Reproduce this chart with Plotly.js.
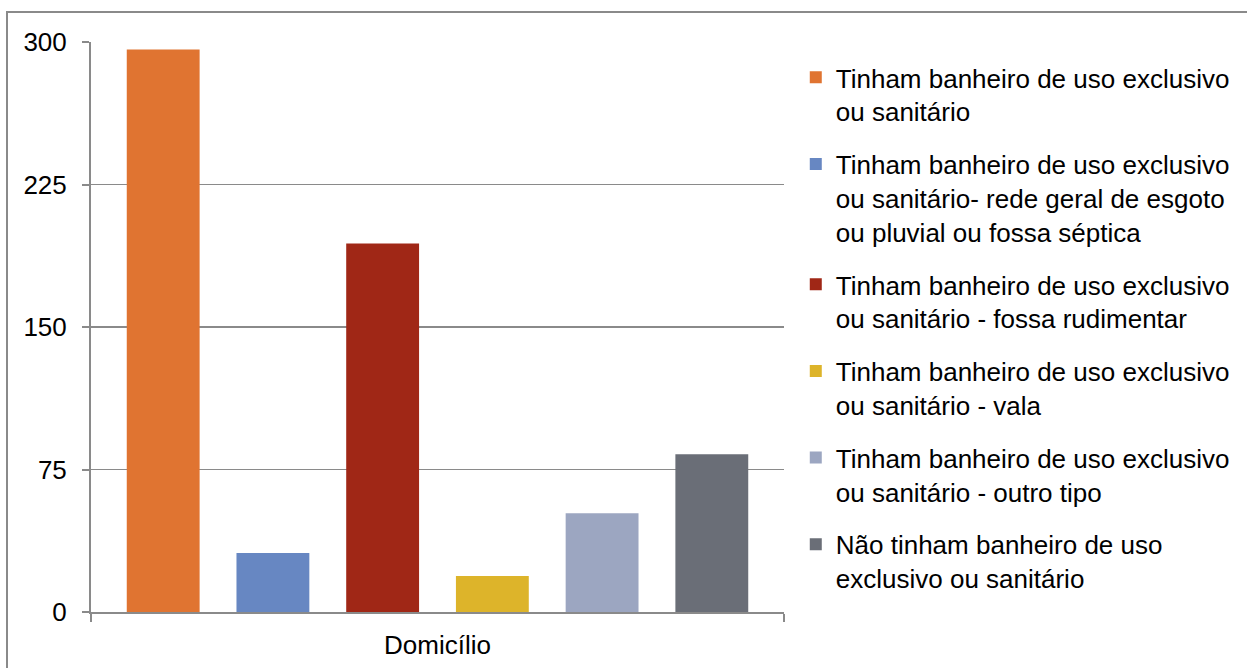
<!DOCTYPE html>
<html>
<head>
<meta charset="utf-8">
<script src="https://cdn.plot.ly/plotly-3.0.1.min.js"></script>
<style>
  html, body { margin: 0; padding: 0; background: #fff; }
  #wrap { position: relative; width: 1247px; height: 668px; overflow: hidden; }
  #chart { position: absolute; left: 0; top: 0; width: 1247px; height: 668px; }
  #frame { position: absolute; left: 6px; top: 11px; width: 1300px; height: 700px;
           border-top: 2px solid #8a8a8a; border-left: 2px solid #8a8a8a; pointer-events: none; }
</style>
</head>
<body>
<div id="wrap"><div id="chart"></div><div id="frame"></div></div>
<script>
const categories = ["Domicílio"];
const seriesNames = [
  "Tinham banheiro de uso exclusivo<br>ou sanitário",
  "Tinham banheiro de uso exclusivo<br>ou sanitário- rede geral de esgoto<br>ou pluvial ou fossa séptica",
  "Tinham banheiro de uso exclusivo<br>ou sanitário - fossa rudimentar",
  "Tinham banheiro de uso exclusivo<br>ou sanitário - vala",
  "Tinham banheiro de uso exclusivo<br>ou sanitário - outro tipo",
  "Não tinham banheiro de uso<br>exclusivo ou sanitário"
];
const seriesValues = [296, 31, 194, 19, 52, 83];
const seriesColors = ["#E07431", "#6787C2", "#A02716", "#DDB42A", "#9CA6C1", "#6A6E77"];
const yTicks = [0, 75, 150, 225, 300];

const traces = seriesNames.map((name, i) => ({
  type: "bar",
  x: categories,
  y: [seriesValues[i]],
  name: name,
  legendgroup: "g" + i,
  marker: { color: seriesColors[i], line: { width: 0 } },
  hoverinfo: "name+y"
}));

const FONT = "Liberation Sans, Arial, sans-serif";
const layout = {
  width: 1247, height: 668,
  margin: { l: 91, r: 463, t: 42, b: 56, pad: 0 },
  paper_bgcolor: "#ffffff",
  plot_bgcolor: "#ffffff",
  font: { family: FONT, size: 26, color: "#000" },
  barmode: "group",
  bargap: 0.05,
  bargroupgap: 0.336,
  showlegend: true,
  legend: {
    x: 1.017, xanchor: "left", y: 0.979, yanchor: "top",
    font: { family: FONT, size: 26, color: "#000" },
    tracegroupgap: 16,
    itemwidth: 30,
    traceorder: "grouped",
    valign: "top",
    bgcolor: "rgba(0,0,0,0)"
  },
  xaxis: {
    type: "category",
    showline: true, linecolor: "#8a8a8a", linewidth: 2,
    ticks: "outside", tickson: "boundaries", ticklen: 8, tickcolor: "#8a8a8a", tickwidth: 2,
    showgrid: false, zeroline: false,
    ticklabelstandoff: 9,
    tickfont: { family: FONT, size: 26 }
  },
  yaxis: {
    range: [0, 300],
    tickvals: yTicks,
    ticktext: yTicks.map(String),
    showline: true, linecolor: "#8a8a8a", linewidth: 2,
    ticks: "outside", ticklen: 7, tickcolor: "#8a8a8a", tickwidth: 2,
    showgrid: true, gridcolor: "#8a8a8a", gridwidth: 1.5,
    zeroline: false,
    ticklabelstandoff: 10,
    tickfont: { family: FONT, size: 26 }
  }
};

Plotly.newPlot("chart", traces, layout, { displayModeBar: false, staticPlot: true });
</script>
</body>
</html>
